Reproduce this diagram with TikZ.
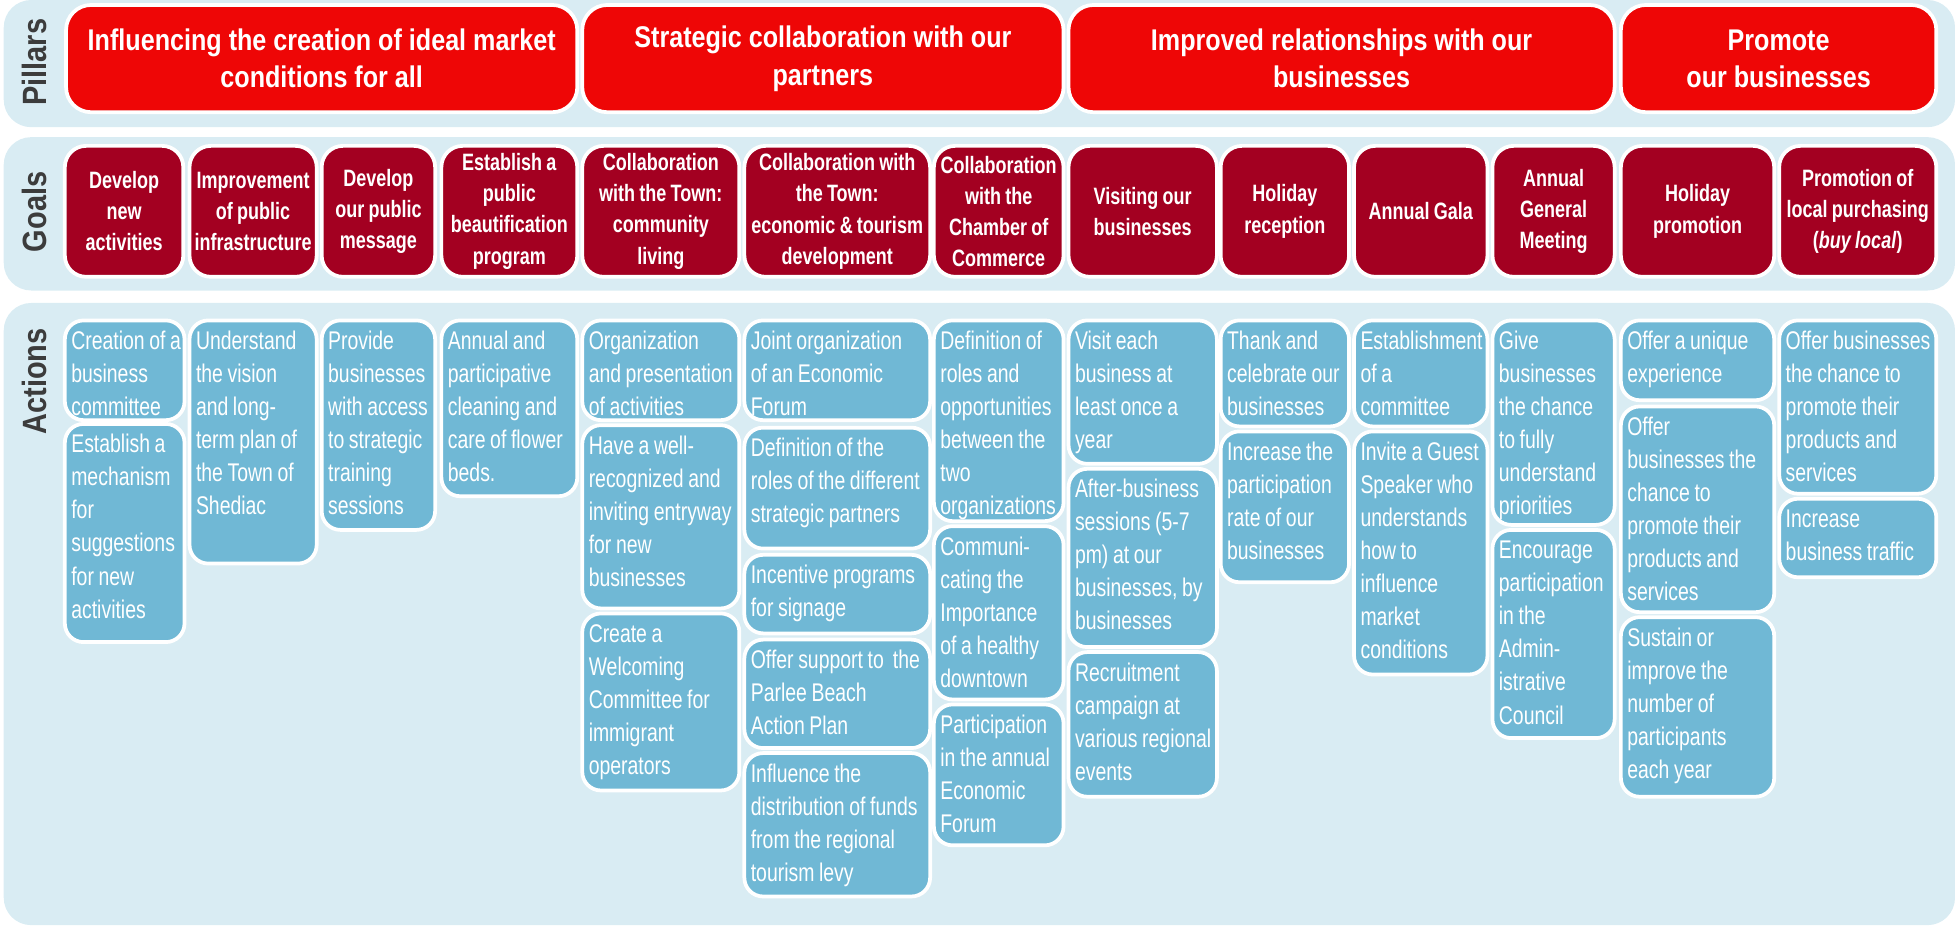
\documentclass[tikz,border=0pt]{standalone}
\usepackage{fontspec}
\setmainfont{Liberation Sans}
\newfontfamily\actfont{Liberation Sans}[FakeStretch=0.76, WordSpace=0.7]
\newfontfamily\goalfont{Liberation Sans}[FakeStretch=0.76, WordSpace=0.85]
\newfontfamily\pilfont{Liberation Sans}[FakeStretch=0.84]
\newfontfamily\lblfont{Liberation Sans}[FakeStretch=0.86]
\definecolor{bandc}{RGB}{217,236,243}
\definecolor{pilc}{RGB}{238,6,6}
\definecolor{goalc}{RGB}{163,0,33}
\definecolor{actc}{RGB}{112,184,213}
\definecolor{lblc}{RGB}{60,60,60}
\tikzset{
 basebox/.style={draw=white, line width=3pt, text=white, outer sep=0pt, anchor=north west},
 pilbox/.style={basebox, fill=pilc, rounded corners=20pt, font=\pilfont\bfseries\fontsize{24}{30}\selectfont, align=center, inner sep=0pt},
 goalbox/.style={basebox, fill=goalc, rounded corners=17pt, font=\goalfont\bfseries\fontsize{19}{25}\selectfont, align=center, inner sep=0pt},
 actbox/.style={basebox, fill=actc, rounded corners=15pt, inner sep=0pt},
 acttext/.style={anchor=north west, align=left, inner sep=0pt, text=white, font=\actfont\fontsize{20.5}{26.5}\selectfont},
 lbl/.style={font=\lblfont\bfseries\fontsize{27}{27}\selectfont, text=lblc, rotate=90},
 bandbg/.style={fill=bandc, rounded corners=22pt},
}
\newcommand\mkpillar[6]{\node[pilbox, minimum width=#4pt, minimum height=#5pt] (#1) at (#2,#3) {#6};}
\newcommand\mkgoal[6]{\node[goalbox, minimum width=#4pt, minimum height=#5pt] (#1) at (#2,#3) {#6};}
\newcommand\mkact[6]{\node[actbox, minimum width=#4pt, minimum height=#5pt] (#1) at (#2,#3) {};
 \node[acttext] (#1t) at ([xshift=5pt]#1.north west) {\rule{0pt}{23pt}#6};}
\begin{document}
\begin{tikzpicture}[x=1pt,y=-1pt]
\useasboundingbox (0,0) rectangle (1568,743);
% bands
\fill[bandbg] (3,0) rectangle (1568,102);
\fill[bandbg] (3,110) rectangle (1568,233);
\fill[bandbg] (3,243) rectangle (1568,742);
% labels
\node[lbl] (lp) at (28,50) {Pillars};
\node[lbl] (lg) at (28,170) {Goals};
\node[lbl] (la) at (28,306) {Actions};
% pillars
\mkpillar{p1}{53}{4}{410}{86}{Influencing the creation of ideal market\\conditions for all}
\mkpillar{p2}{467}{4}{386}{86}{Strategic collaboration with our\\partners}
\mkpillar{p3}{857}{4}{438}{86}{Improved relationships with our\\businesses}
\mkpillar{p4}{1300}{4}{253}{86}{Promote\\our businesses}
% goals
\mkgoal{g1}{52}{117}{95}{105}{Develop\\new\\activities}
\mkgoal{g2}{152}{117}{102}{105}{Improvement\\of public\\infrastructure}
\mkgoal{g3}{258}{117}{91}{105}{Develop\\our public\\message}
\mkgoal{g4}{354}{117}{109}{105}{Establish a\\public\\beautification\\program}
\mkgoal{g5}{467}{117}{126}{105}{Collaboration\\with the Town:\\community\\living}
\mkgoal{g6}{597}{117}{149}{105}{Collaboration with\\the Town:\\economic \& tourism\\development}
\mkgoal{g7}{749}{117}{104}{105}{Collaboration\\with the\\Chamber of\\Commerce}
\mkgoal{g8}{857}{117}{119}{105}{Visiting our\\businesses}
\mkgoal{g9}{979}{117}{103}{105}{Holiday\\reception}
\mkgoal{g10}{1086}{117}{107}{105}{Annual Gala}
\mkgoal{g11}{1197}{117}{98}{105}{Annual\\General\\Meeting}
\mkgoal{g12}{1300}{117}{123}{105}{Holiday\\promotion}
\mkgoal{g13}{1427}{117}{126}{105}{Promotion of\\local purchasing\\(\textit{buy local})}
% actions
\mkact{a1a}{52}{257}{96}{80}{Creation of a\\business\\committee}
\mkact{a1b}{52}{340}{96}{175}{Establish a\\mechanism\\for\\suggestions\\for new\\activities}
\mkact{a2}{152}{257}{102}{195}{Understand\\the vision\\and long-\\term plan of\\the Town of\\Shediac}
\mkact{a3}{258}{257}{91}{168}{Provide\\businesses\\with access\\to strategic\\training\\sessions}
\mkact{a4}{354}{257}{109}{141}{Annual and\\participative\\cleaning and\\care of flower\\beds.}
\mkact{a5a}{467}{257}{126}{80}{Organization\\and presentation\\of activities}
\mkact{a5b}{467}{341}{126}{147}{Have a well-\\recognized and\\inviting entryway\\for new\\businesses}
\mkact{a5c}{467}{492}{126}{142}{Create a\\Welcoming\\Committee for\\immigrant\\operators}
\mkact{a6a}{597}{257}{149}{80}{Joint organization\\of an Economic\\Forum}
\mkact{a6b}{597}{343}{149}{97}{Definition of the\\roles of the different\\strategic partners}
\mkact{a6c}{597}{445}{149}{63}{Incentive programs\\for signage}
\mkact{a6d}{597}{513}{149}{87}{Offer support to\ \ the\\Parlee Beach\\Action Plan}
\mkact{a6e}{597}{604}{149}{115}{Influence the\\distribution of funds\\from the regional\\tourism levy}
\mkact{a7a}{749}{257}{104}{161}{Definition of\\roles and\\opportunities\\between the\\two\\organizations}
\mkact{a7b}{749}{422}{104}{139}{Communi-\\cating the\\Importance\\of a healthy\\downtown}
\mkact{a7c}{749}{565}{104}{113}{Participation\\in the annual\\Economic\\Forum}
\mkact{a8a}{857}{257}{119}{115}{Visit each\\business at\\least once a\\year}
\mkact{a8b}{857}{376}{119}{143}{After-business\\sessions (5-7\\pm) at our\\businesses, by\\businesses}
\mkact{a8c}{857}{523}{119}{116}{Recruitment\\campaign at\\various regional\\events}
\mkact{a9a}{979}{257}{103}{85}{Thank and\\celebrate our\\businesses}
\mkact{a9b}{979}{346}{103}{121}{Increase the\\participation\\rate of our\\businesses}
\mkact{a10a}{1086}{257}{107}{85}{Establishment\\of a\\committee}
\mkact{a10b}{1086}{346}{107}{195}{Invite a Guest\\Speaker who\\understands\\how to\\influence\\market\\conditions}
\mkact{a11a}{1197}{257}{98}{164}{Give\\businesses\\the chance\\to fully\\understand\\priorities}
\mkact{a11b}{1197}{425}{98}{167}{Encourage\\participation\\in the\\Admin-\\istrative\\Council}
\mkact{a12a}{1300}{257}{123}{64}{Offer a unique\\experience}
\mkact{a12b}{1300}{326}{123}{165}{Offer\\businesses the\\chance to\\promote their\\products and\\services}
\mkact{a12c}{1300}{495}{123}{144}{Sustain or\\improve the\\number of\\participants\\each year}
\mkact{a13a}{1427}{257}{126}{139}{Offer businesses\\the chance to\\promote their\\products and\\services}
\mkact{a13b}{1427}{400}{126}{63}{Increase\\business traffic}
\end{tikzpicture}
\end{document}
